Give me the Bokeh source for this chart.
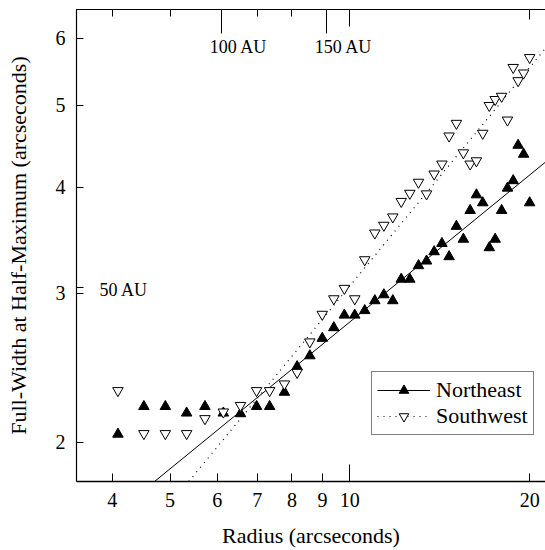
from bokeh.plotting import figure
from bokeh.models import (LogAxis, FixedTicker, PrintfTickFormatter, Legend,
                          LegendItem, Label, Range1d, CustomJSTickFormatter)
from bokeh.embed import file_html
from bokeh.resources import INLINE

# ---- data ----
radius = [4.09, 4.52, 4.91, 5.33, 5.72, 6.14, 6.56, 6.98, 7.34, 7.77,
          8.16, 8.57, 8.99, 9.40, 9.79, 10.19, 10.59, 11.01, 11.40, 11.80,
          12.19, 12.60, 13.03, 13.44, 13.84, 14.26, 14.66, 15.08, 15.49, 15.90,
          16.29, 16.69, 17.12, 17.51, 17.95, 18.36, 18.77, 19.13, 19.54, 20.00]
ne_fwhm = [2.044, 2.204, 2.204, 2.165, 2.204, 2.165, 2.161, 2.204, 2.204, 2.291,
           2.456, 2.530, 2.653, 2.731, 2.826, 2.826, 2.861, 2.939, 2.987, 2.939,
           3.116, 3.116, 3.233, 3.274, 3.358, 3.434, 3.313, 3.598, 3.474, 3.757,
           3.920, 3.836, 3.395, 3.474, 3.757, 3.992, 4.074, 4.486, 4.378, 3.836]
sw_fwhm = [2.301, 2.047, 2.047, 2.047, 2.132, 2.171, 2.210, 2.301, 2.301, 2.343,
           2.418, 2.627, 2.832, 2.954, 3.039, 2.954, 3.285, 3.533, 3.608, 3.691,
           3.850, 3.936, 4.056, 3.930, 4.148, 4.262, 4.600, 4.761, 4.394, 4.262,
           4.300, 4.634, 4.998, 5.080, 5.125, 4.804, 5.543, 5.347, 5.460, 5.694]

# power-law fits (straight lines in log-log), end points
ne_fit_radius = [4.71, 21.3]
ne_fit_fwhm = [1.797, 4.29]
sw_fit_radius = [5.375, 21.3]
sw_fit_fwhm = [1.797, 5.85]

# tick values / labels
x_ticks = [4, 5, 6, 7, 8, 9, 10, 20]
y_ticks = [2, 3, 4, 5, 6]
au_radius = [6.1, 9.15]          # 100 AU, 150 AU along radius axis
au_radius_labels = ["100 AU", "150 AU"]
au_fwhm = [3.05]                 # 50 AU along FWHM axis
au_fwhm_labels = ["50 AU"]

SERIF = "Liberation Serif"

p = figure(width=545, height=550, x_axis_type="log", y_axis_type="log",
           x_range=Range1d(3.486, 21.26), y_range=Range1d(1.797, 6.49),
           output_backend="svg", toolbar_location=None,
           min_border_left=76, min_border_right=0, min_border_top=9,
           min_border_bottom=65)
p.grid.visible = False
p.outline_line_color = None
p.background_fill_color = "white"
p.border_fill_color = "white"

# bottom axis
xa = p.xaxis[0]
xa.ticker = FixedTicker(ticks=x_ticks, minor_ticks=[10])
xa.formatter = PrintfTickFormatter(format="%d")
xa.major_tick_in = 8
xa.major_tick_out = 0
xa.minor_tick_in = 17
xa.minor_tick_out = 0
xa.major_label_standoff = 11
xa.major_label_text_font = SERIF
xa.major_label_text_font_size = "20px"
xa.major_label_text_color = "black"
xa.axis_label = "Radius (arcseconds)"
xa.axis_label_text_font = SERIF
xa.axis_label_text_font_size = "22px"
xa.axis_label_text_font_style = "normal"
xa.axis_label_text_color = "black"
xa.axis_label_standoff = 13
xa.axis_line_color = "black"
xa.axis_line_width = 1.3

# left axis
ya = p.yaxis[0]
ya.ticker = FixedTicker(ticks=y_ticks, minor_ticks=au_fwhm)
ya.formatter = PrintfTickFormatter(format="%d")
ya.major_tick_in = 7
ya.major_tick_out = 0
ya.minor_tick_in = 7
ya.minor_tick_out = 0
ya.major_label_standoff = 11
ya.major_label_text_font = SERIF
ya.major_label_text_font_size = "20px"
ya.major_label_text_color = "black"
ya.axis_label = "Full-Width at Half-Maximum (arcseconds)"
ya.axis_label_text_font = SERIF
ya.axis_label_text_font_size = "22px"
ya.axis_label_text_font_style = "normal"
ya.axis_label_text_color = "black"
ya.axis_label_standoff = 22
ya.axis_line_color = "black"
ya.axis_line_width = 1.2

# top axes (ticks only, no labels)
blank = CustomJSTickFormatter(code="return '';")
top1 = LogAxis(ticker=FixedTicker(ticks=au_radius, minor_ticks=[10]),
               formatter=blank,
               major_tick_in=24, major_tick_out=0, minor_tick_in=17, minor_tick_out=0,
               major_label_text_font_size="10px", major_label_standoff=0,
               axis_line_color="black", axis_line_width=1.2)
top2 = LogAxis(ticker=FixedTicker(ticks=[20], minor_ticks=[4, 5, 7, 8]),
               formatter=blank,
               major_tick_in=10, major_tick_out=0, minor_tick_in=7, minor_tick_out=0,
               major_label_text_font_size="10px", major_label_standoff=0,
               axis_line_color="black", axis_line_width=1.2)
p.add_layout(top1, "above")
p.add_layout(top2, "above")

# fit lines
ne_line = p.line(ne_fit_radius, ne_fit_fwhm, line_color="black", line_width=1)
sw_line = p.line(sw_fit_radius, sw_fit_fwhm, line_color="black", line_width=1.2,
                 line_dash="1 5")

# data points
ne_pts = p.scatter(radius, ne_fwhm, marker="triangle", size=10.5,
                   fill_color="black", line_color="black")
sw_pts = p.scatter(radius, sw_fwhm, marker="inverted_triangle", size=10.5,
                   fill_color="white", line_color="black", line_width=1)

# AU labels
for r, t in zip(au_radius, au_radius_labels):
    p.add_layout(Label(x=r, y=5.86, text=t, x_offset=-12, text_align="left",
                       text_baseline="middle", text_font=SERIF,
                       text_font_size="18px", text_color="black"))
for f, t in zip(au_fwhm, au_fwhm_labels):
    p.add_layout(Label(x=3.81, y=f, text=t, y_offset=-3, text_align="left",
                       text_baseline="middle", text_font=SERIF,
                       text_font_size="18px", text_color="black"))

legend = Legend(items=[LegendItem(label="Northeast", renderers=[ne_line, ne_pts]),
                       LegendItem(label="Southwest", renderers=[sw_line, sw_pts])],
                location=(295, 46), label_text_font=SERIF, label_text_font_size="22px",
                label_text_color="black",
                glyph_width=53, glyph_height=24, label_standoff=6, padding=5,
                spacing=0, margin=0, border_line_color="black", border_line_width=1,
                background_fill_color="white", background_fill_alpha=1)
p.add_layout(legend)

open("out.html", "w").write(file_html(p, INLINE))
